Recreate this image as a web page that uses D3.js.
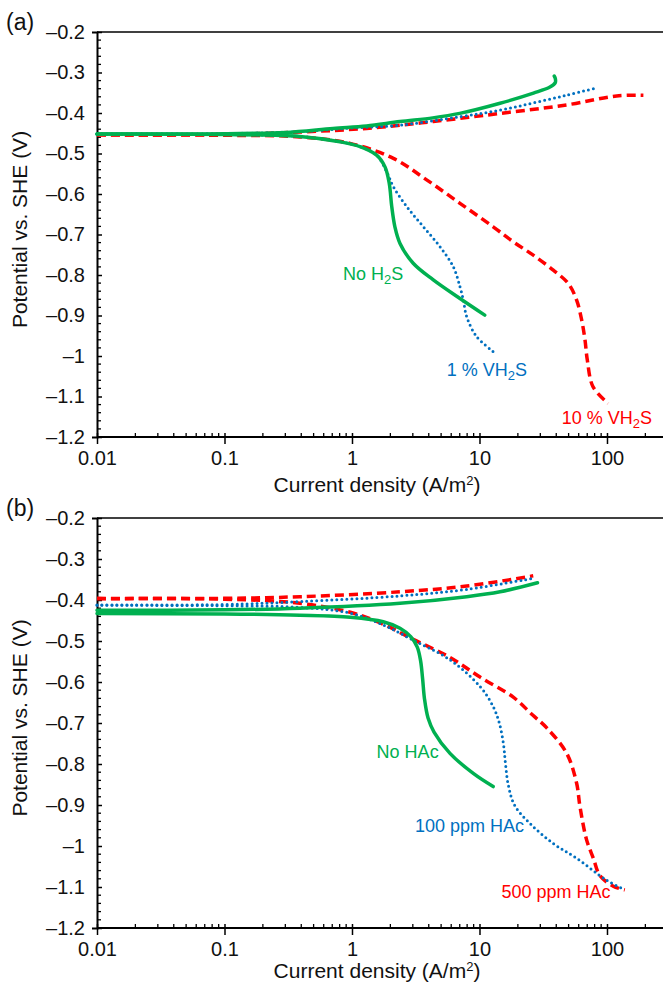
<!DOCTYPE html>
<html>
<head>
<meta charset="utf-8">
<script src="https://cdn.jsdelivr.net/npm/d3@7"></script>
<style>
  body { margin: 0; background: #fff; }
  svg { font-family: "Liberation Sans", Arial, sans-serif; }
</style>
</head>
<body>
<script>
// colours
var GREEN = "#00b050", BLUE = "#0070c0", RED = "#ff0000";

// ticks
var xTicks = [0.01, 0.1, 1, 10, 100];
var yTicks = [-0.2, -0.3, -0.4, -0.5, -0.6, -0.7, -0.8, -0.9, -1.0, -1.1, -1.2];

// (a) H2S series  [current density A/m2, potential V]
var aNoH2sAnodic = [[0.01,-0.452],[0.05,-0.452],[0.1,-0.451],[0.3,-0.448],[0.71,-0.438],[1.3,-0.432],[2.38,-0.421],[4.3,-0.412],[7.0,-0.401],[14.5,-0.376],[26.5,-0.351],[35.7,-0.336],[39.3,-0.325],[39.4,-0.316],[38.6,-0.309]];
var aNoH2sCathodic = [[0.01,-0.452],[0.1,-0.453],[0.39,-0.458],[0.805,-0.471],[1.156,-0.483],[1.56,-0.504],[1.815,-0.533],[1.96,-0.574],[2.05,-0.631],[2.17,-0.681],[2.38,-0.722],[3.02,-0.771],[4.34,-0.812],[7.03,-0.858],[11.0,-0.899]];
var a1pctAnodic = [[0.01,-0.452],[0.1,-0.451],[0.39,-0.446],[1.0,-0.437],[2.38,-0.430],[7.03,-0.409],[14.5,-0.393],[26.5,-0.375],[48.3,-0.356],[80.5,-0.339]];
var a1pctCathodic = [[0.01,-0.452],[0.1,-0.453],[0.39,-0.458],[0.805,-0.471],[1.156,-0.483],[1.56,-0.504],[1.87,-0.545],[2.11,-0.582],[2.69,-0.631],[3.63,-0.681],[4.9,-0.730],[6.24,-0.780],[7.03,-0.829],[7.47,-0.862],[7.94,-0.903],[9.5,-0.952],[13.3,-0.993]];
var a10pctAnodic = [[0.01,-0.454],[0.1,-0.453],[0.39,-0.447],[1.3,-0.438],[4.34,-0.421],[14.5,-0.401],[48.3,-0.380],[119,-0.358],[193,-0.356]];
var a10pctCathodic = [[0.01,-0.454],[0.1,-0.455],[0.39,-0.459],[0.965,-0.475],[2.11,-0.512],[3.85,-0.565],[7.03,-0.623],[12.8,-0.681],[18.4,-0.718],[26.4,-0.751],[37.9,-0.788],[49.7,-0.821],[57.8,-0.862],[63.3,-0.911],[67.2,-0.960],[70.1,-1.010],[77.7,-1.076],[102,-1.117]];

// (b) HAc series
var bNoHacAnodic = [[0.01,-0.425],[0.1,-0.424],[0.39,-0.420],[2.38,-0.408],[7.94,-0.392],[14.5,-0.380],[28.5,-0.358]];
var bNoHacCathodic = [[0.01,-0.433],[0.1,-0.434],[0.39,-0.437],[0.97,-0.442],[1.76,-0.453],[2.38,-0.469],[2.9,-0.490],[3.25,-0.515],[3.45,-0.548],[3.58,-0.592],[3.7,-0.640],[3.95,-0.688],[4.4,-0.722],[5.87,-0.774],[8.94,-0.823],[12.8,-0.855]];
var b100Anodic = [[0.01,-0.412],[0.1,-0.411],[0.39,-0.404],[2.38,-0.390],[7.94,-0.374],[26.4,-0.347]];
var b100Cathodic = [[0.01,-0.413],[0.1,-0.414],[0.39,-0.418],[0.97,-0.432],[1.76,-0.461],[3.02,-0.498],[5.87,-0.546],[10.1,-0.611],[12.8,-0.660],[14.3,-0.700],[15.4,-0.750],[16.0,-0.800],[16.8,-0.850],[18.8,-0.900],[24.9,-0.945],[37.9,-0.994],[57.8,-1.030],[99,-1.083],[138,-1.107]];
var b500Anodic = [[0.01,-0.396],[0.1,-0.396],[0.39,-0.392],[2.38,-0.380],[7.94,-0.366],[26.4,-0.341]];
var b500Cathodic = [[0.01,-0.397],[0.1,-0.398],[0.39,-0.408],[0.97,-0.430],[1.76,-0.459],[3.02,-0.496],[5.87,-0.540],[10.1,-0.588],[18.4,-0.637],[26,-0.680],[33.7,-0.712],[48.3,-0.774],[57.8,-0.847],[61.4,-0.904],[69.2,-0.985],[78.2,-1.030],[88,-1.072],[112,-1.098],[138,-1.107]];

var W = 663, H = 984;
var svg = d3.select("body").append("svg").attr("width", W).attr("height", H);

var styles = {
  green: {color: GREEN, width: 3.5, dash: null, cap: "round"},
  blue:  {color: BLUE, width: 3, dash: "0,5", cap: "round"},
  red:   {color: RED, width: 3.5, dash: "9,5", cap: "butt"}
};

var panels = [
  {tag: "(a)", top: 32, bottom: 437, titleOff: 55,
   series: [
     {d: a10pctAnodic, s: "red"}, {d: a10pctCathodic, s: "red"},
     {d: a1pctAnodic, s: "blue"}, {d: a1pctCathodic, s: "blue"},
     {d: aNoH2sAnodic, s: "green"}, {d: aNoH2sCathodic, s: "green"}],
   labels: [
     {at: [0.85, -0.812], s: "green", parts: ["No H", "2", "S"]},
     {at: [5.53, -1.050], s: "blue", parts: ["1 % VH", "2", "S"]},
     {at: [44.2, -1.168], s: "red", parts: ["10 % VH", "2", "S"]}]},
  {tag: "(b)", top: 518, bottom: 928, titleOff: 50,
   series: [
     {d: b500Anodic, s: "red"}, {d: b500Cathodic, s: "red"},
     {d: b100Anodic, s: "blue"}, {d: b100Cathodic, s: "blue"},
     {d: bNoHacAnodic, s: "green"}, {d: bNoHacCathodic, s: "green"}],
   labels: [
     {at: [1.56, -0.786], s: "green", parts: ["No HAc"]},
     {at: [3.12, -0.966], s: "blue", parts: ["100 ppm HAc"]},
     {at: [14.9, -1.127], s: "red", parts: ["500 ppm HAc"]}]}
];

var x = d3.scaleLog().domain([0.01, 275]).range([97, 663]);
var fmt = function(d) { return d3.format("~g")(d).replace(/[-\u2212]/, "\u2013"); };

var xMinor = [];
[0.01, 0.1, 1, 10, 100].forEach(function(dec) {
  for (var k = 2; k <= 9; k++) if (dec * k < 275) xMinor.push(dec * k);
});
var yMinor = d3.range(-1.2, -0.19, 0.02).map(function(v) { return +v.toFixed(2); })
  .filter(function(v) { return Math.abs(Math.round(v * 10) - v * 10) > 0.01; });

panels.forEach(function(p) {
  var y = d3.scaleLinear().domain([-1.2, -0.2]).range([p.bottom, p.top]);
  var g = svg.append("g");

  // top frame line
  g.append("line").attr("x1", 97).attr("x2", 663)
    .attr("y1", y(-0.2)).attr("y2", y(-0.2))
    .attr("stroke", "#000").attr("stroke-width", 1.5);

  // minor ticks
  g.selectAll(".xm").data(xMinor).enter().append("line")
    .attr("x1", d => x(d)).attr("x2", d => x(d))
    .attr("y1", p.bottom).attr("y2", p.bottom - 4)
    .attr("stroke", "#000").attr("stroke-width", 1.3);
  g.selectAll(".ym").data(yMinor).enter().append("line")
    .attr("x1", 97).attr("x2", 101)
    .attr("y1", d => y(d)).attr("y2", d => y(d))
    .attr("stroke", "#000").attr("stroke-width", 1.3);

  // axes
  var xAxis = d3.axisBottom(x).tickValues(xTicks).tickFormat(fmt)
    .tickSize(7).tickPadding(7);
  var gx = g.append("g").attr("transform", "translate(0," + p.bottom + ")").call(xAxis);
  gx.selectAll(".tick line").attr("y1", -4).attr("stroke-width", 1.5);

  var yAxis = d3.axisLeft(y).tickValues(yTicks).tickFormat(fmt)
    .tickSize(5).tickPadding(7);
  var gy = g.append("g").attr("transform", "translate(97,0)").call(yAxis);
  gy.selectAll(".tick line").attr("x2", 5).attr("stroke-width", 1.5);

  [gx, gy].forEach(function(a) {
    a.select(".domain").attr("stroke-width", 2);
    a.selectAll("text").attr("font-size", 20).attr("fill", "#111")
      .attr("font-family", "Liberation Sans, Arial, sans-serif");
  });
  gx.select(".domain").attr("d", "M97,0H663");

  // curves
  var line = d3.line().x(d => x(d[0])).y(d => y(d[1])).curve(d3.curveCatmullRom.alpha(0.5));
  g.selectAll(".curve").data(p.series).enter().append("path")
    .attr("d", d => line(d.d))
    .attr("fill", "none")
    .attr("stroke", d => styles[d.s].color)
    .attr("stroke-width", d => styles[d.s].width)
    .attr("stroke-dasharray", d => styles[d.s].dash)
    .attr("stroke-linecap", d => styles[d.s].cap)
    .attr("stroke-linejoin", "round");

  // curve labels
  p.labels.forEach(function(l) {
    var t = g.append("text").attr("x", x(l.at[0])).attr("y", y(l.at[1]))
      .attr("font-size", 18).attr("fill", styles[l.s].color);
    l.parts.forEach(function(part, i) {
      var ts = t.append("tspan").text(part);
      if (i === 1) ts.attr("font-size", 13).attr("dy", 4);
      if (i === 2) ts.attr("dy", -4);
    });
  });

  // titles
  var xt = g.append("text").attr("x", 377).attr("y", p.bottom + p.titleOff)
    .attr("text-anchor", "middle").attr("font-size", 21).attr("fill", "#111");
  xt.append("tspan").text("Current density (A/m");
  xt.append("tspan").text("2").attr("font-size", 13).attr("dy", -7);
  xt.append("tspan").text(")").attr("dy", 7);

  g.append("text")
    .attr("transform", "translate(27," + ((p.top + p.bottom) / 2 - 5) + ") rotate(-90)")
    .attr("text-anchor", "middle").attr("font-size", 21).attr("fill", "#111")
    .text("Potential vs. SHE (V)");

  g.append("text").attr("x", 6).attr("y", p.top - 2)
    .attr("font-size", 23).attr("fill", "#111").text(p.tag);
});
</script>
</body>
</html>
